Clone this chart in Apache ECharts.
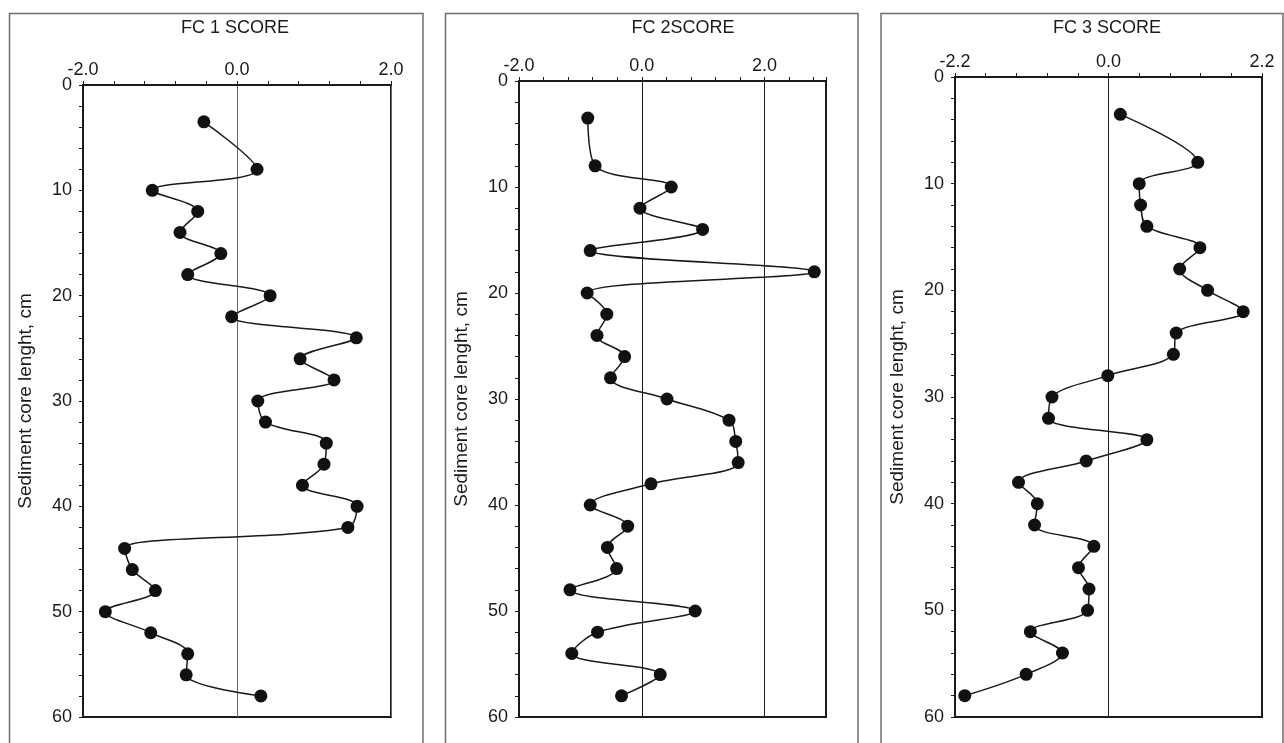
<!DOCTYPE html>
<html>
<head>
<meta charset="utf-8">
<script src="https://cdn.jsdelivr.net/npm/echarts@6/dist/echarts.min.js"></script>
<style>
html,body{margin:0;padding:0;background:#fff;}
#c{width:1284px;height:743px;}
</style>
</head>
<body>
<div id="c"></div>
<script>
// ---- data ----
const depth = [3.5, 8, 10, 12, 14, 16, 18, 20, 22, 24, 26, 28, 30, 32, 34, 36, 38, 40, 42, 44, 46, 48, 50, 52, 54, 56, 58];
const fc1 = [-0.43, 0.26, -1.10, -0.51, -0.74, -0.21, -0.64, 0.43, -0.07, 1.55, 0.82, 1.26, 0.27, 0.37, 1.16, 1.13, 0.85, 1.56, 1.44, -1.46, -1.36, -1.06, -1.71, -1.12, -0.64, -0.66, 0.31];
const fc2 = [-0.88, -0.76, 0.48, -0.03, 0.99, -0.84, 2.81, -0.89, -0.57, -0.73, -0.28, -0.51, 0.41, 1.42, 1.53, 1.57, 0.15, -0.84, -0.23, -0.56, -0.41, -1.17, 0.87, -0.72, -1.14, 0.30, -0.33];
const fc3 = [0.17, 1.28, 0.44, 0.46, 0.55, 1.31, 1.02, 1.42, 1.93, 0.97, 0.93, -0.01, -0.81, -0.86, 0.55, -0.32, -1.29, -1.02, -1.06, -0.21, -0.43, -0.28, -0.30, -1.12, -0.66, -1.18, -2.06];
const titles = ['FC 1 SCORE', 'FC 2SCORE', 'FC 3 SCORE'];
const yName = 'Sediment core lenght, cm';
const xTickLabels1 = ['-2.0', '0.0', '2.0'];
const xTickLabels2 = ['-2.0', '0.0', '2.0'];
const xTickLabels3 = ['-2.2', '0.0', '2.2'];
const yTickLabels = ['0', '10', '20', '30', '40', '50', '60'];

// ---- layout / style ----
const FONT = 'Liberation Sans, Arial, sans-serif';
const TXT = '#1a1a1a';
const panels = [
  {grid:{left:83, top:85, width:308, height:632}, min:-2, max:2, interval:2, minor:0.4, labels:xTickLabels1, series:fc1, split:'#6a6a6a', title:titles[0], tx:230},
  {grid:{left:519, top:81, width:307, height:636}, min:-2, max:3, interval:2, minor:0.4, labels:xTickLabels2, series:fc2, split:'#1a1a1a', title:titles[1], tx:678},
  {grid:{left:955, top:77, width:307, height:640}, min:-2.2, max:2.2, interval:2.2, minor:0.44, labels:xTickLabels3, series:fc3, split:'#1a1a1a', title:titles[2], tx:1102}
];

const option = {
  backgroundColor:'#fff',
  animation:false,
  title:[], grid:[], xAxis:[], yAxis:[], series:[],
  graphic:[
    {type:'rect', shape:{x:9.5, y:13.5, width:413.5, height:800}, style:{fill:'none', stroke:'#6e6e6e', lineWidth:1.5}, silent:true},
    {type:'rect', shape:{x:445.5, y:13.5, width:412.5, height:800}, style:{fill:'none', stroke:'#6e6e6e', lineWidth:1.5}, silent:true},
    {type:'rect', shape:{x:881, y:13.5, width:402, height:800}, style:{fill:'none', stroke:'#6e6e6e', lineWidth:1.5}, silent:true}
  ]
};

panels.forEach((p, i) => {
  option.title.push({text:p.title, left:p.tx, top:14, textAlign:'center',
    textStyle:{fontFamily:FONT, fontSize:18, fontWeight:'normal', color:TXT}});
  option.grid.push(Object.assign({show:true, borderColor:'#1a1a1a', borderWidth:2, backgroundColor:'transparent'}, p.grid));
  // label axis
  option.xAxis.push({
    type:'value', gridIndex:i, position:'top', min:p.min, max:p.max, interval:p.interval,
    axisLine:{show:true, onZero:false, lineStyle:{color:'#1a1a1a', width:2}},
    axisTick:{show:false},
    axisLabel:{show:true, margin:6, fontFamily:FONT, fontSize:18, color:TXT, showMaxLabel: i===1 ? false : true,
      formatter:(v)=>{ const k = Math.round((v - p.min)/p.interval); return p.labels[k] !== undefined && Math.abs(p.min + k*p.interval - v) < 1e-6 ? p.labels[k] : ''; }},
    splitLine:{show:true, lineStyle:{color:p.split, width:1}}
  });
  // minor tick axis
  option.xAxis.push({
    type:'value', gridIndex:i, position:'top', min:p.min, max:p.max, interval:p.minor,
    axisLine:{show:false, onZero:false}, axisLabel:{show:false}, splitLine:{show:false},
    axisTick:{show:true, inside:false, length:4, lineStyle:{color:'#1a1a1a', width:1}}
  });
  option.yAxis.push({
    type:'value', gridIndex:i, inverse:true, min:0, max:60, interval:10, position:'left',
    name:yName, nameLocation:'middle', nameRotate:90, nameGap:48,
    nameTextStyle:{fontFamily:FONT, fontSize:19, color:TXT},
    axisLine:{show:true, onZero:false, lineStyle:{color:'#1a1a1a', width:2}},
    axisTick:{show:true, length:4, lineStyle:{color:'#1a1a1a'}},
    minorTick:{show:true, splitNumber:5, length:4, lineStyle:{color:'#1a1a1a'}},
    axisLabel:{margin:11, fontFamily:FONT, fontSize:18, color:TXT,
      formatter:(v)=>{ const k = Math.round(v/10); return yTickLabels[k] || ''; }},
    splitLine:{show:false}
  });
  option.series.push({
    type:'line', xAxisIndex:i*2, yAxisIndex:i,
    data: depth.map((d, j) => [p.series[j], d]),
    smooth:0.35,
    symbol:'circle', symbolSize:13,
    itemStyle:{color:'#111'},
    lineStyle:{color:'#1a1a1a', width:1.5},
    z:3
  });
});

const chart = echarts.init(document.getElementById('c'), null, {renderer:'canvas'});
chart.setOption(option);
</script>
</body>
</html>
